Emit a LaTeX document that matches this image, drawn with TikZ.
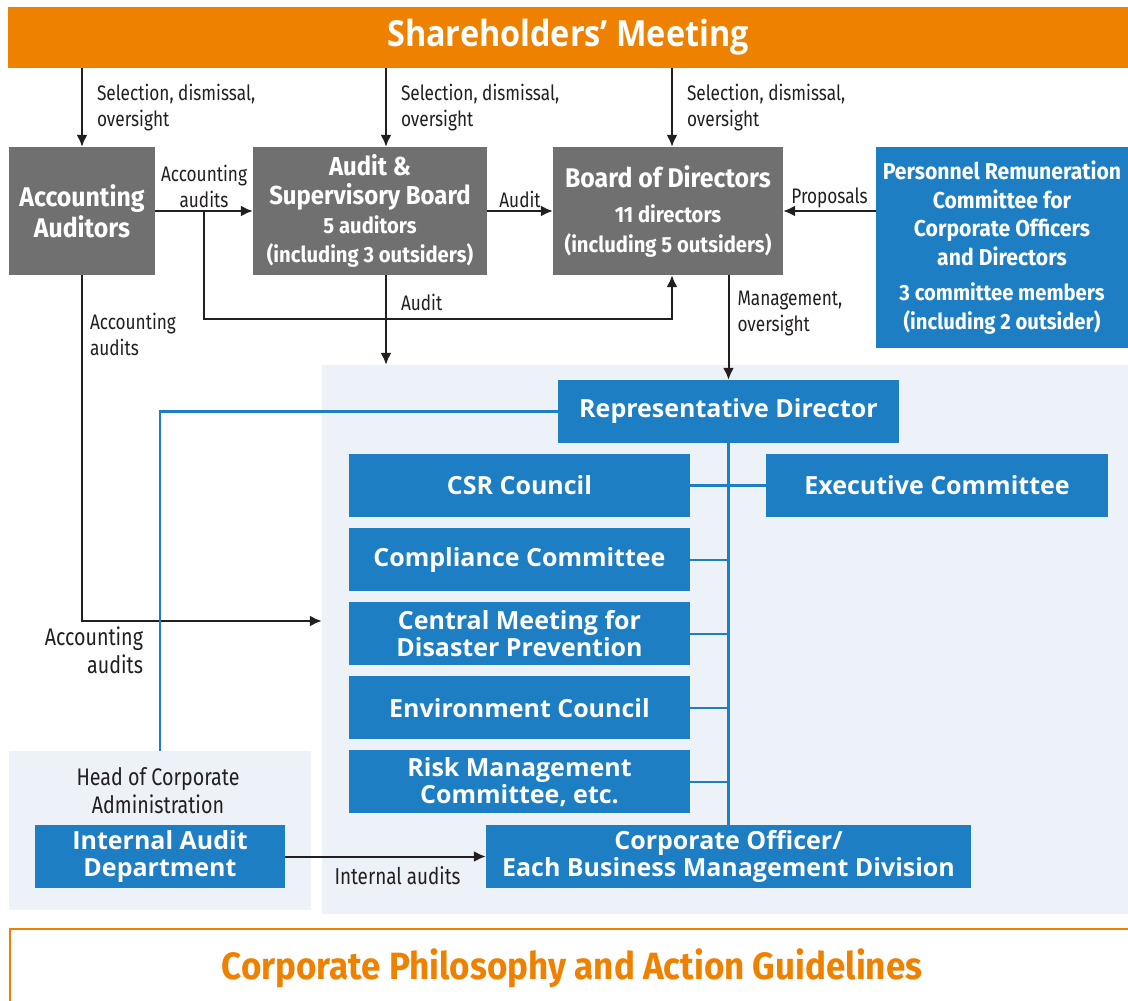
\documentclass[tikz,border=0pt]{standalone}
\usepackage{fontspec}
\setmainfont{Open Sans}
\newfontfamily\cond[FakeStretch=0.82]{Fira Sans}
\newfontfamily\boardfont[FakeStretch=0.92]{Fira Sans}
\newfontfamily\wide[FakeStretch=0.9]{Open Sans}
\newcommand\subline{\fontsize{22}{26}\selectfont}
\usetikzlibrary{arrows.meta,calc,positioning}
\definecolor{MeetOrange}{RGB}{238,130,0}
\definecolor{BoardGray}{RGB}{112,112,112}
\definecolor{OrgBlue}{RGB}{30,126,195}
\definecolor{OrgPanel}{RGB}{237,241,248}
\definecolor{Ink}{RGB}{35,31,32}

\begin{document}
\begin{tikzpicture}[x=1pt, y=-1pt, >={Latex[length=12pt,width=11pt]},
    boardbox/.style={fill=BoardGray, text=white, font=\boardfont\bfseries, align=center, inner sep=0pt},
    unitbox/.style={fill=OrgBlue, text=white, font=\bfseries\fontsize{25}{26.5}\selectfont, align=center, inner sep=0pt, minimum width=341pt, minimum height=63pt},
    pane/.style={fill=OrgPanel, inner sep=0pt},
    lab/.style={text=Ink, font=\cond\fontsize{21}{26}\selectfont, align=left, inner sep=2pt},
    arr/.style={->, line width=2pt, draw=Ink},
    bline/.style={line width=2.2pt, draw=OrgBlue}]

    \useasboundingbox (0,0) rectangle (1128,1001);
    \fill[white] (0,0) rectangle (1128,1001);

    % light background areas
    \node[pane, minimum width=806pt, minimum height=549pt] (panel) at (725,639.5) {};
    \node[pane, minimum width=302pt, minimum height=159pt] (hca) at (160,830.5) {};

    \node[fill=MeetOrange, text=white, font=\wide\bfseries\fontsize{36}{40}\selectfont,
          minimum width=1120pt, minimum height=61pt, inner sep=0pt] (meeting) at (568,37.5) {Shareholders’ Meeting};

    % boards
    \node[boardbox, minimum width=146pt, minimum height=128pt, font=\boardfont\bfseries\fontsize{27}{31}\selectfont] (acct) at (82,211) {Accounting\\Auditors};
    \node[boardbox, minimum width=234pt, minimum height=128pt, font=\boardfont\bfseries\fontsize{26}{29}\selectfont] (asb) at (370,211)
        {Audit \&\\Supervisory Board\\\subline 5 auditors\\\subline (including 3 outsiders)};
    \node[boardbox, minimum width=230pt, minimum height=128pt, font=\boardfont\bfseries\fontsize{27}{30}\selectfont] (bod) at (668,211)
        {Board of Directors\\[5pt]\subline 11 directors\\\subline (including 5 outsiders)};
    \node[boardbox, fill=OrgBlue, minimum width=252pt, minimum height=201pt, font=\boardfont\bfseries\fontsize{23}{28.5}\selectfont] (prc) at (1002,247.5)
        {Personnel Remuneration\\Committee for\\Corporate Officers\\and Directors\\[7pt]\subline 3 committee members\\\subline (including 2 outsider)};

    % executive side
    \node[unitbox] (rep) at (728.5,411.5) {Representative Director};
    \node[unitbox, minimum width=342pt] (exec) at (937,485.5) {Executive Committee};
    \node[unitbox] (csr) at (519.5,485.5) {CSR Council};
    \node[unitbox] (comp) at (519.5,559.6) {Compliance Committee};
    \node[unitbox] (cmdp) at (519.5,633.7) {Central Meeting for\\Disaster Prevention};
    \node[unitbox] (env) at (519.5,707.8) {Environment Council};
    \node[unitbox] (risk) at (519.5,781.9) {Risk Management\\Committee, etc.};
    \node[unitbox, minimum width=485pt] (co) at (728.5,856.5) {Corporate Officer/\\Each Business Management Division};
    \node[unitbox, minimum width=250pt] (iad) at (160,856.5) {Internal Audit\\Department};
    \node[lab, align=center, font=\cond\fontsize{24}{28}\selectfont] (hcatext) at (158,791) {Head of Corporate\\Administration};

    \node[draw=MeetOrange, line width=2.5pt, minimum width=1130pt, minimum height=82pt, inner sep=0pt] (guide) at (575,970) {};
    \node[text=MeetOrange, font=\boardfont\bfseries\fontsize{38}{42}\selectfont] (guidetext) at (572,968) {Corporate Philosophy and Action Guidelines};

    \coordinate (a1) at (acct.north);
    \coordinate (a2) at ($(asb.north)+(16,0)$);
    \coordinate (a3) at ($(bod.north)+(4,0)$);
    \coordinate (split) at ($(acct.east)!0.5!(asb.west)$);
    \coordinate (turn) at (acct.south |- 0,621);

    % selection from the meeting
    \foreach \c in {a1,a2,a3}
        \draw[arr] (meeting.south -| \c) -- node[lab, right=12pt] {Selection, dismissal,\\oversight} (\c);

    \draw[arr] (acct.east |- split) -- node[lab, above, align=center] {Accounting\\audits} (asb.west |- split);
    \draw[arr] (asb.east |- split) -- node[lab, above] {Audit} (bod.west |- split);
    \draw[arr] (prc.west |- split) -- node[lab, above] {Proposals} (bod.east |- split);
    \draw[arr] (split) -- ++(0,108) -| (a3 |- bod.south);
    \draw[arr] (a2 |- asb.south) -- node[lab, right=12pt, pos=0.3] {Audit} (a2 |- panel.north);
    \draw[arr] (rep.north |- bod.south) -- node[lab, right=6pt, pos=0.37] {Management,\\oversight} (rep.north);
    \draw[arr] (acct.south) -- node[lab, right=5pt, pos=0.17] {Accounting\\audits} (turn)
        node[lab, align=right, anchor=north east, xshift=64pt, yshift=-3pt, font=\cond\fontsize{24}{28}\selectfont] {Accounting\\audits} -- (turn -| panel.west);
    \draw[arr] (iad.east) -- node[lab, below=7pt, xshift=12pt, font=\cond\fontsize{23}{26}\selectfont] {Internal audits} (co.west);

    % reporting lines
    \draw[bline] (hca.north) |- (rep.west);
    \draw[bline] (rep.south) -- (co.north);
    \draw[bline] (csr.east) -- (exec.west);
    \foreach \n in {comp,cmdp,env,risk}
        \draw[bline] (\n.east) -- (\n.east -| rep.south);
\end{tikzpicture}
\end{document}
